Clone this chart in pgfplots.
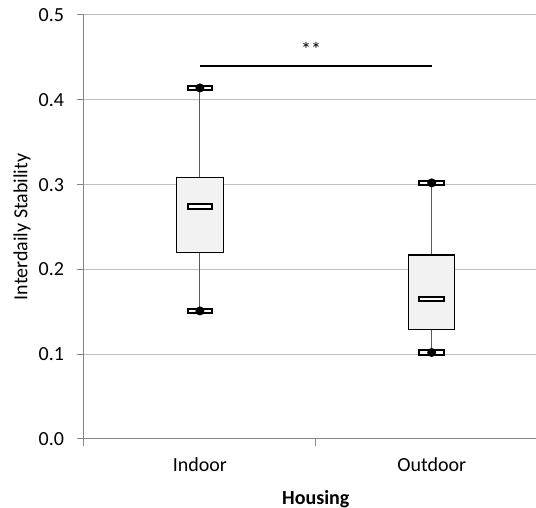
\documentclass[border=0pt]{standalone}
\usepackage{pgfplots}
\pgfplotsset{compat=1.18}
\usepgfplotslibrary{statistics}
\usepackage{fontspec}
\setmainfont{Carlito}
\definecolor{gridc}{HTML}{BFBFBF}
\definecolor{axisc}{HTML}{868686}
\definecolor{boxfill}{HTML}{F2F2F2}
\definecolor{whisk}{HTML}{595959}
\pgfdeclareplotmark{medrect}{%
  \pgfpathrectangle{\pgfpoint{-9.25pt}{-1.75pt}}{\pgfpoint{18.5pt}{3.5pt}}%
  \pgfsetfillcolor{white}\pgfsetstrokecolor{black}\pgfsetlinewidth{1.5pt}%
  \pgfusepath{fill,stroke}}
\pgfdeclareplotmark{capmark}{%
  \pgfpathrectangle{\pgfpoint{-9.25pt}{-1.75pt}}{\pgfpoint{18.5pt}{3.5pt}}%
  \pgfsetfillcolor{white}\pgfsetstrokecolor{black}\pgfsetlinewidth{1.5pt}%
  \pgfusepath{fill,stroke}%
  \pgfpathcircle{\pgfpointorigin}{3.4pt}%
  \pgfsetfillcolor{black}\pgfusepath{fill}}
\begin{document}
\fontsize{15}{18}\selectfont
\begin{tikzpicture}
\begin{axis}[
  scale only axis, width=339pt, height=318pt,
  xmin=-0.5, xmax=1.45, ymin=0, ymax=0.5,
  axis x line*=bottom, axis y line*=left,
  axis line style={axisc, line width=0.75pt},
  ytick={0,0.1,0.2,0.3,0.4,0.5},
  yticklabel style={xshift=-4.5pt, /pgf/number format/fixed, /pgf/number format/fixed zerofill, /pgf/number format/precision=1},
  /pgf/number format/assume math mode=true,
  ymajorgrids, grid style={gridc, line width=0.75pt},
  tick align=outside, major tick length=5.25pt,
  tick style={axisc, line width=0.75pt},
  xtick={-0.5,0.5}, xticklabels={},
  extra x ticks={0,1}, extra x tick labels={Indoor,Outdoor},
  extra x tick style={major tick length=0pt, xticklabel style={anchor=center, yshift=-19.5pt}},
  every axis x label/.style={at={(axis cs:0.5,0)}, anchor=center, yshift=-45pt},
  every axis y label/.style={at={(axis description cs:0,0.5)}, xshift=-46.5pt, anchor=center, rotate=90},
  xlabel={\textbf{Housing}}, ylabel={Interdaily Stability},
  boxplot/draw direction=y,
  boxplot/every whisker/.style={draw=whisk, line width=0.9pt},
  boxplot/every box/.style={draw=black, fill=boxfill, line width=0.8pt},
  boxplot/every median/.style={draw=none},
  clip=false,
]
\coordinate (sw) at (rel axis cs:0,0);
\coordinate (ne) at (rel axis cs:1,1);
\addplot[boxplot prepared={median=0.274, upper quartile=0.308, lower quartile=0.220,
  upper whisker=0.414, lower whisker=0.151, draw position=0, box extend=0.2, whisker extend=0}]
  coordinates {};
\addplot[boxplot prepared={median=0.165, upper quartile=0.217, lower quartile=0.129,
  upper whisker=0.302, lower whisker=0.102, draw position=1, box extend=0.2, whisker extend=0}]
  coordinates {};
\addplot[only marks, mark=medrect] coordinates {(0,0.274) (1,0.165)};
\addplot[only marks, mark=capmark] coordinates {(0,0.414) (0,0.151) (1,0.302) (1,0.102)};
\addplot[black, line width=1.4pt] coordinates {(0,0.44) (1,0.44)};
\node[anchor=center] at (axis cs:0.48,0.459) {**};
\end{axis}
\pgfresetboundingbox
\path[use as bounding box] ([xshift=-63pt,yshift=-51.75pt]sw) rectangle ([yshift=11.25pt]ne);
\end{tikzpicture}
\end{document}
